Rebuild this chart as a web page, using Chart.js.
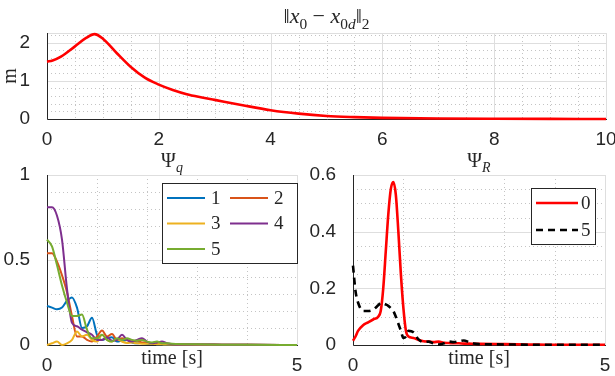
<!DOCTYPE html>
<html>
<head>
<meta charset="utf-8">
<script src="https://cdn.jsdelivr.net/npm/chart.js@4.4.1/dist/chart.umd.min.js"></script>
<style>
  body { margin: 0; background: #fff; }
  .pane { position: absolute; }
</style>
</head>
<body>
<div class="pane" style="left:0;top:0"><canvas id="cTop" width="615" height="150"></canvas></div>
<div class="pane" style="left:0;top:150px"><canvas id="cQ" width="310" height="226"></canvas></div>
<div class="pane" style="left:310px;top:150px"><canvas id="cR" width="305" height="226"></canvas></div>
<script>
// ---- data ----
const normTime = [0, 0.1, 0.25, 0.5, 0.7, 0.85, 1.0, 1.25, 1.5, 1.75, 2.0, 2.25, 2.5, 2.75, 3.0, 3.5, 4.0, 4.5, 5.0, 5.5, 6.0, 7.0, 8.0, 9.0, 10.0];
const normErr  = [1.5, 1.53, 1.63, 1.9, 2.12, 2.22, 2.1, 1.72, 1.36, 1.08, 0.9, 0.76, 0.65, 0.57, 0.5, 0.36, 0.23, 0.14, 0.08, 0.05, 0.03, 0.012, 0.005, 0.002, 0.001];
const normXTicks = [0, 2, 4, 6, 8, 10];
const normYTicks = [0, 1, 2];

const qTime = [0, 0.1, 0.2, 0.3, 0.4, 0.5, 0.6, 0.7, 0.8, 0.9, 1.0, 1.1, 1.2, 1.3, 1.4, 1.5, 1.6, 1.7, 1.8, 1.9, 2.0, 2.1, 2.2, 2.3, 2.4, 2.5, 3.0, 3.5, 4.0, 5.0];
const q1 = [0.23, 0.22, 0.21, 0.22, 0.26, 0.28, 0.22, 0.10, 0.11, 0.16, 0.06, 0.03, 0.04, 0.045, 0.02, 0.025, 0.03, 0.015, 0.01, 0.012, 0.008, 0.006, 0.005, 0.004, 0.003, 0.003, 0.002, 0.001, 0.001, 0];
const q2 = [0.54, 0.54, 0.49, 0.41, 0.31, 0.17, 0.05, 0.05, 0.03, 0.02, 0.05, 0.085, 0.05, 0.065, 0.03, 0.04, 0.03, 0.02, 0.025, 0.015, 0.015, 0.01, 0.01, 0.008, 0.006, 0.005, 0.003, 0.002, 0.001, 0];
const q3 = [0.0, 0.01, 0.02, 0.0, 0.01, 0.03, 0.08, 0.05, 0.06, 0.03, 0.02, 0.06, 0.03, 0.02, 0.035, 0.02, 0.012, 0.015, 0.01, 0.008, 0.008, 0.006, 0.005, 0.004, 0.003, 0.003, 0.002, 0.001, 0.001, 0];
const q4 = [0.81, 0.81, 0.76, 0.62, 0.33, 0.13, 0.11, 0.09, 0.075, 0.06, 0.03, 0.03, 0.045, 0.025, 0.03, 0.06, 0.03, 0.02, 0.03, 0.04, 0.02, 0.01, 0.015, 0.02, 0.01, 0.005, 0.003, 0.002, 0.001, 0];
const q5 = [0.62, 0.58, 0.47, 0.35, 0.25, 0.17, 0.17, 0.18, 0.09, 0.04, 0.04, 0.06, 0.03, 0.02, 0.04, 0.03, 0.04, 0.03, 0.025, 0.03, 0.02, 0.015, 0.02, 0.01, 0.01, 0.008, 0.004, 0.002, 0.001, 0];
const qNames = ['1', '2', '3', '4', '5'];
const qColors = ['#0072BD', '#D95319', '#EDB120', '#7E2F8E', '#77AC30'];
const qYTicks = [0, 0.5, 1];

const rTime = [0, 0.05, 0.1, 0.2, 0.3, 0.4, 0.5, 0.55, 0.6, 0.65, 0.7, 0.75, 0.8, 0.85, 0.9, 0.95, 1.0, 1.05, 1.1, 1.2, 1.3, 1.4, 1.5, 1.6, 1.7, 1.8, 1.9, 2.0, 2.1, 2.2, 2.3, 2.4, 2.5, 3.0, 3.5, 4.0, 5.0];
const r0 = [0.015, 0.03, 0.05, 0.07, 0.08, 0.09, 0.1, 0.12, 0.2, 0.33, 0.46, 0.55, 0.575, 0.53, 0.4, 0.25, 0.13, 0.05, 0.03, 0.025, 0.018, 0.013, 0.012, 0.01, 0.012, 0.008, 0.007, 0.006, 0.006, 0.005, 0.005, 0.004, 0.004, 0.003, 0.002, 0.001, 0.001];
const r5 = [0.28, 0.19, 0.15, 0.12, 0.12, 0.125, 0.14, 0.148, 0.147, 0.143, 0.138, 0.13, 0.12, 0.1, 0.075, 0.05, 0.025, 0.03, 0.05, 0.045, 0.02, 0.01, 0.012, 0.005, 0.002, 0.006, 0.012, 0.01, 0.013, 0.016, 0.01, 0.005, 0.003, 0.002, 0.001, 0.001, 0.001];
const rYTicks = [0, 0.2, 0.4, 0.6];
const timeTicks = [0, 5];

const INK = '#262626';
const TICK_FONT = { family: '"Liberation Sans", Arial, sans-serif', size: 19 };
const SERIF = '"Liberation Serif", "DejaVu Serif", serif';

function steps(a, b, s, skip) {
  const out = [];
  for (let v = a; v <= b + 1e-9; v += s) {
    const r = Math.round(v * 1000) / 1000;
    if (!skip.some(m => Math.abs(m - r) < 1e-9)) out.push(r);
  }
  return out;
}

// rich text: runs of {t, it, sub}
function drawRich(ctx, runs, cx, base, size) {
  const font = r => (r.it ? 'italic ' : '') + (r.sub ? size * 0.7 : size) + 'px ' + SERIF;
  let w = 0;
  runs.forEach(r => { ctx.font = font(r); w += ctx.measureText(r.t).width; });
  let x = cx - w / 2;
  ctx.fillStyle = INK;
  ctx.textAlign = 'left';
  ctx.textBaseline = 'alphabetic';
  runs.forEach(r => {
    ctx.font = font(r);
    ctx.fillText(r.t, x, base + (r.sub ? size * 0.25 : 0));
    x += ctx.measureText(r.t).width;
  });
}

const decor = {
  id: 'decor',
  beforeDatasetsDraw(chart, args, o) {
    const { ctx, chartArea: a, scales: { x, y } } = chart;
    ctx.save();
    ctx.lineWidth = 1;
    const vline = v => { const p = Math.round(x.getPixelForValue(v)) + 0.5; ctx.beginPath(); ctx.moveTo(p, a.top); ctx.lineTo(p, a.bottom); ctx.stroke(); };
    const hline = v => { const p = Math.round(y.getPixelForValue(v)) + 0.5; ctx.beginPath(); ctx.moveTo(a.left, p); ctx.lineTo(a.right, p); ctx.stroke(); };
    ctx.strokeStyle = '#c4c4c4';
    ctx.setLineDash([1, 3]);
    o.xMinor.forEach(vline);
    o.yMinor.forEach(hline);
    ctx.setLineDash([]);
    ctx.strokeStyle = '#dedede';
    o.xMajor.forEach(vline);
    o.yMajor.forEach(hline);
    // axis lines
    ctx.strokeStyle = INK;
    const l = Math.round(a.left) + 0.5, b = Math.round(a.bottom) + 0.5;
    ctx.beginPath(); ctx.moveTo(l, Math.round(a.top)); ctx.lineTo(l, b); ctx.lineTo(Math.round(a.right) + 1, b); ctx.stroke();
    ctx.restore();
  },
  afterDraw(chart, args, o) {
    const { ctx, chartArea: a } = chart;
    ctx.save();
    if (o.title) drawRich(ctx, o.title, (a.left + a.right) / 2, o.titleBase, o.titleSize);
    if (o.xlabel) drawRich(ctx, o.xlabel, (a.left + a.right) / 2, o.xlabelBase, 20);
    if (o.ylabel) {
      ctx.translate(o.ylabelX, (a.top + a.bottom) / 2);
      ctx.rotate(-Math.PI / 2);
      drawRich(ctx, o.ylabel, 0, 0, 20);
      ctx.setTransform(1, 0, 0, 1, 0, 0);
    }
    if (o.legend) {
      const L = o.legend;
      ctx.fillStyle = '#fff';
      ctx.fillRect(L.x, L.y, L.w, L.h);
      ctx.strokeStyle = INK;
      ctx.lineWidth = 1;
      ctx.strokeRect(L.x + 0.5, L.y + 0.5, L.w, L.h);
      chart.data.datasets.forEach((ds, i) => {
        const col = i % L.cols, row = Math.floor(i / L.cols);
        const x0 = L.x + L.padX + col * L.colW;
        const yy = L.y + L.rowY0 + row * L.rowH;
        ctx.strokeStyle = ds.borderColor;
        ctx.lineWidth = ds.borderWidth;
        ctx.setLineDash(ds.borderDash || []);
        ctx.beginPath(); ctx.moveTo(x0, yy); ctx.lineTo(x0 + L.lineW, yy); ctx.stroke();
        ctx.setLineDash([]);
        ctx.fillStyle = INK;
        ctx.font = '19px ' + SERIF;
        ctx.textAlign = 'left';
        ctx.textBaseline = 'middle';
        ctx.fillText(ds.label, x0 + L.lineW + L.gap, yy + 1);
      });
    }
    ctx.restore();
  }
};

function axes(xmin, xmax, xt, ymin, ymax, yt, box) {
  return {
    x: {
      type: 'linear', min: xmin, max: xmax,
      grid: { display: false }, border: { display: false },
      ticks: { font: TICK_FONT, color: INK, padding: 1, maxRotation: 0, callback: v => String(v) },
      afterBuildTicks: s => { s.ticks = xt.map(v => ({ value: v })); },
      afterFit: s => { s.height = box.b; s.paddingLeft = 0; s.paddingRight = 0; }
    },
    y: {
      type: 'linear', min: ymin, max: ymax,
      grid: { display: false }, border: { display: false },
      ticks: { font: TICK_FONT, color: INK, padding: 9, callback: v => String(v) },
      afterBuildTicks: s => { s.ticks = yt.map(v => ({ value: v })); },
      afterFit: s => { s.width = box.l; s.paddingTop = 0; s.paddingBottom = 0; }
    }
  };
}

function series(xs, ys) { return ys.map((v, k) => ({ x: xs[k], y: v })); }

const common = {
  responsive: false, animation: false, devicePixelRatio: 1,
  elements: { point: { radius: 0 }, line: { cubicInterpolationMode: 'monotone' } },
};

// top: ||x0 - x0d||2
new Chart(document.getElementById('cTop'), {
  type: 'line',
  data: { datasets: [{ label: 'norm', data: series(normTime, normErr), borderColor: '#ff0000', borderWidth: 2.6, clip: false }] },
  options: Object.assign({}, common, {
    layout: { padding: { top: 33, right: 9, left: 0, bottom: 0 } },
    scales: axes(0, 10, normXTicks, 0, 2.25, normYTicks, { l: 47, b: 31 }),
    plugins: {
      legend: { display: false }, tooltip: { enabled: false },
      decor: {
        xMajor: normXTicks, xMinor: steps(0, 10, 0.5, normXTicks),
        yMajor: normYTicks.concat([2.25]), yMinor: steps(0, 2.2, 0.2, normYTicks),
        title: [{ t: '‖' }, { t: 'x', it: 1 }, { t: '0', sub: 1 }, { t: ' − ' }, { t: 'x', it: 1 }, { t: '0', sub: 1 }, { t: 'd', sub: 1, it: 1 }, { t: '‖' }, { t: '2', sub: 1 }],
        titleBase: 23, titleSize: 22,
        ylabel: [{ t: 'm' }], ylabelX: 16
      }
    }
  }),
  plugins: [decor]
});

// bottom left: Psi_q
new Chart(document.getElementById('cQ'), {
  type: 'line',
  data: {
    datasets: [q1, q2, q3, q4, q5].map((s, i) => ({
      label: qNames[i], data: series(qTime, s), borderColor: qColors[i], borderWidth: 2, clip: false, order: 5 - i
    }))
  },
  options: Object.assign({}, common, {
    layout: { padding: { top: 25, right: 13, left: 0, bottom: 0 } },
    scales: axes(0, 5, timeTicks, 0, 1, qYTicks, { l: 47, b: 31 }),
    plugins: {
      legend: { display: false }, tooltip: { enabled: false },
      decor: {
        xMajor: timeTicks, xMinor: [1, 2, 3, 4],
        yMajor: qYTicks, yMinor: steps(0, 1, 0.1, qYTicks),
        title: [{ t: 'Ψ' }, { t: 'q', sub: 1, it: 1 }], titleBase: 17, titleSize: 20,
        xlabel: [{ t: 'time [s]' }], xlabelBase: 214,
        legend: { x: 162, y: 33, w: 135, h: 80, cols: 2, padX: 5, colW: 63, rowY0: 15, rowH: 25.5, lineW: 38, gap: 6 }
      }
    }
  }),
  plugins: [decor]
});

// bottom right: Psi_R
new Chart(document.getElementById('cR'), {
  type: 'line',
  data: {
    datasets: [
      { label: '0', data: series(rTime, r0), borderColor: '#ff0000', borderWidth: 2.6, clip: false, order: 2 },
      { label: '5', data: series(rTime, r5), borderColor: '#000000', borderWidth: 2.6, borderDash: [7, 5], clip: false, order: 1 }
    ]
  },
  options: Object.assign({}, common, {
    layout: { padding: { top: 25, right: 10, left: 0, bottom: 0 } },
    scales: axes(0, 5, timeTicks, 0, 0.6, rYTicks, { l: 43, b: 31 }),
    plugins: {
      legend: { display: false }, tooltip: { enabled: false },
      decor: {
        xMajor: timeTicks, xMinor: [1, 2, 3, 4],
        yMajor: rYTicks, yMinor: steps(0, 0.6, 0.05, rYTicks),
        title: [{ t: 'Ψ' }, { t: 'R', sub: 1, it: 1 }], titleBase: 17, titleSize: 20,
        xlabel: [{ t: 'time [s]' }], xlabelBase: 214,
        legend: { x: 221, y: 38, w: 64, h: 56, cols: 1, padX: 5, colW: 0, rowY0: 15, rowH: 27, lineW: 42, gap: 3 }
      }
    }
  }),
  plugins: [decor]
});
</script>
</body>
</html>
